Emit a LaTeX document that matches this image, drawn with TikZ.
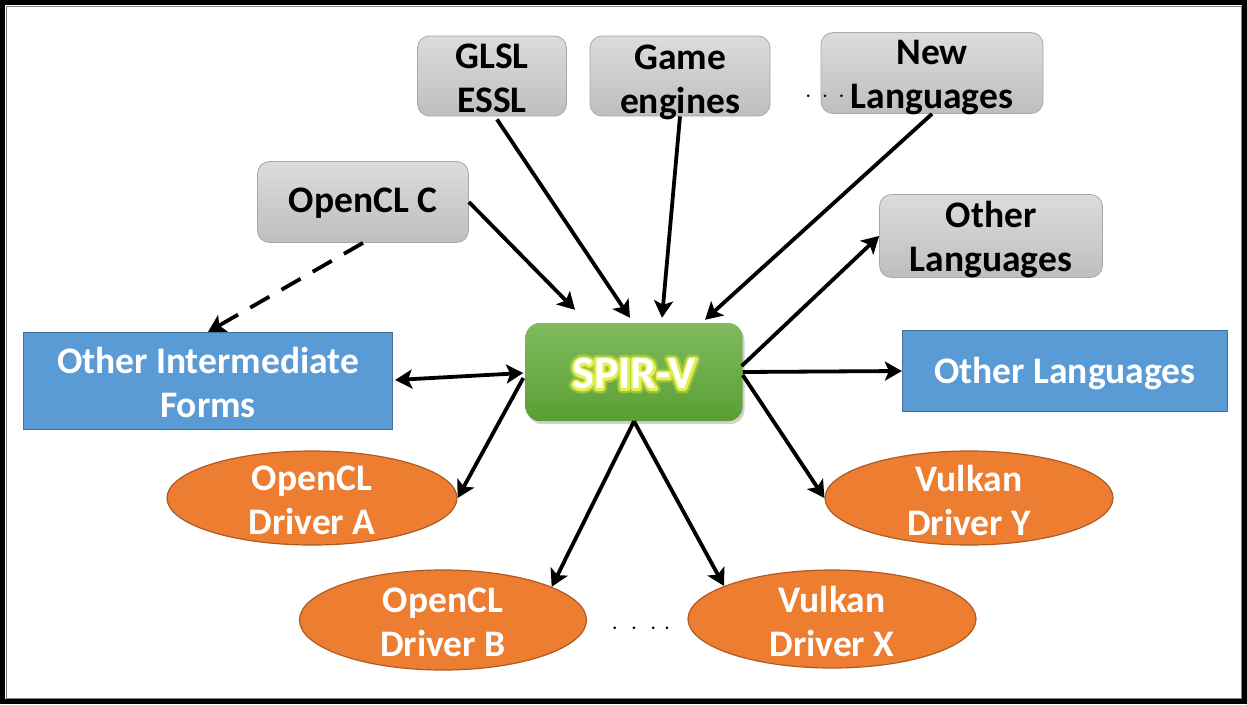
\documentclass[tikz,border=0pt]{standalone}
\usepackage{fontspec}
\setmainfont{Carlito}
\usetikzlibrary{arrows.meta,shadows,calc,shapes.geometric}
\definecolor{gtop}{HTML}{DCDCDC}
\definecolor{gbot}{HTML}{BEBEBE}
\definecolor{gedge}{HTML}{A8A8A8}
\definecolor{blueF}{HTML}{5B9BD5}
\definecolor{blueE}{HTML}{41719C}
\definecolor{orF}{HTML}{ED7D31}
\definecolor{orE}{HTML}{AE5A21}
\definecolor{grTop}{HTML}{80BB5E}
\definecolor{grBot}{HTML}{5A9E34}
\definecolor{glowA}{HTML}{B9D83A}
\definecolor{glowB}{HTML}{E4F050}
\newcommand{\glowtext}[2]{\special{pdf:literal direct 1 Tr #1 w 1 j}#2\special{pdf:literal direct 0 Tr 1 w}}
\begin{document}
\begin{tikzpicture}[x=1pt,y=-1pt,
  txt/.style={font=\fontsize{37.5}{44}\selectfont\bfseries, align=center, inner sep=0pt},
  wtxt/.style={txt, text=white},
  graybox/.style={rounded corners=12pt, draw=gedge, line width=0.8pt, top color=gtop, bottom color=gbot},
  bluebox/.style={fill=blueF, draw=blueE, line width=1.2pt},
  oval/.style={ellipse, fill=orF, draw=orE, line width=1.2pt, inner sep=0pt},
  arr/.style={line width=3.8pt, -{Stealth[length=17pt,width=19pt,inset=4pt]}},
  dbl/.style={line width=3.8pt, {Stealth[length=17pt,width=19pt,inset=4pt]}-{Stealth[length=17pt,width=19pt,inset=4pt]}},
  dots/.style={font=\fontsize{38}{44}\selectfont\bfseries, inner sep=0pt},
  spirfont/.style={font=\fontsize{46}{52}\selectfont\bfseries, inner sep=0pt}
]
\useasboundingbox (0,0) rectangle (1247,704);
\fill[white] (0,0) rectangle (1247,704);
\draw[gray, line width=1pt] (6,6) rectangle (1241,698);
\draw[black, line width=5pt] (2.5,2.5) rectangle (1244.5,701.5);

% top gray boxes
\node[graybox, minimum width=149pt, minimum height=80pt] (glsl) at (492,76) {};
\node[txt] (glslt) at ($(glsl.center)+(0,2)$) {GLSL\\ESSL};
\node[graybox, minimum width=180pt, minimum height=80pt] (game) at (680,76) {};
\node[txt] (gamet) at ($(game.center)+(0,6)$) {Game\\engines};
\node[graybox, minimum width=222pt, minimum height=81pt] (newl) at (932,73) {};
\node[txt] (newlt) at ($(newl.center)+(0,5)$) {New\\Languages};
\node[dots] (dd1) at (825,97) {$\cdot\,\cdot\,\cdot$};
\node[graybox, minimum width=211pt, minimum height=81pt] (oclc) at (363,202) {};
\node[txt] (oclct) at ($(oclc.center)+(0,1)$) {OpenCL C};
\node[graybox, minimum width=223pt, minimum height=83pt] (othg) at (991,236) {};
\node[txt] (othgt) at ($(othg.center)+(0,4)$) {Other\\Languages};

% blue boxes
\node[bluebox, minimum width=369pt, minimum height=97pt] (oif) at (208,381) {};
\node[wtxt] (oift) at ($(oif.center)+(0,1)$) {Other Intermediate\\Forms};
\node[bluebox, minimum width=325pt, minimum height=81pt] (othb) at (1065,371) {};
\node[wtxt] (othbt) at ($(othb.center)+(0,3)$) {Other Languages};

% SPIR-V
\node[rounded corners=14pt, minimum width=217pt, minimum height=98pt, top color=grTop, bottom color=grBot,
      drop shadow={shadow xshift=2pt, shadow yshift=-3pt, opacity=0.35}] (spirv) at (634,372) {};
\node[spirfont, text=glowA, opacity=0.6] (spirg1) at ($(spirv.center)+(0,2)$) {\glowtext{9}{SPIR-V}};
\node[spirfont, text=glowB] (spirg2) at ($(spirv.center)+(0,2)$) {\glowtext{4.5}{SPIR-V}};
\node[spirfont, text=white] (spirvt) at ($(spirv.center)+(0,2)$) {SPIR-V};

% ellipses
\node[oval, minimum width=290pt, minimum height=94pt] (drvA) at (312,498) {};
\node[wtxt] (drvAt) at ($(drvA.center)+(0,2)$) {OpenCL\\Driver A};
\node[oval, minimum width=288pt, minimum height=94pt] (drvY) at (969,498) {};
\node[wtxt] (drvYt) at ($(drvY.center)+(0,2)$) {Vulkan\\Driver Y};
\node[oval, minimum width=287pt, minimum height=100pt] (drvB) at (443,620) {};
\node[wtxt] (drvBt) at ($(drvB.center)+(0,2)$) {OpenCL\\Driver B};
\node[oval, minimum width=288pt, minimum height=98pt] (drvX) at (832,619) {};
\node[wtxt] (drvXt) at ($(drvX.center)+(0,2)$) {Vulkan\\Driver X};
\node[dots] (dd2) at (641,629) {$\cdot\;\cdot\;\cdot\;\cdot$};

% arrows into SPIR-V
\draw[arr] (oclc.east) -- ($(spirv.north)+(-59,-13)$);
\draw[arr] ($(glsl.south)+(5,3)$) -- ($(spirv.north)+(-4,-5)$);
\draw[arr] (game.south) -- ($(spirv.north)+(28,-5)$);
\draw[arr] (newl.south) -- ($(spirv.north)+(71,-3)$);

% arrows out of SPIR-V
\draw[arr] ($(spirv.east)+(-1,-6)$) -- (othg.west);
\draw[arr] (spirv.east) -- (othb.west);
\draw[arr] ($(spirv.east)+(0,3)$) -- (drvY.west);
\draw[arr] (spirv.south) -- (drvB.17);
\draw[arr] (spirv.south) -- (drvX.163);
\draw[arr] ($(spirv.west)+(-2,6)$) -- (drvA.east);
\draw[dbl] ($(oif.east)+(2,-1)$) -- ($(spirv.west)+(-2,1)$);

% dashed
\draw[line width=3.8pt, dash pattern=on 22pt off 14pt, -{Stealth[length=17pt,width=19pt,inset=4pt]}] (oclc.south) -- (oif.north);
\end{tikzpicture}
\end{document}
